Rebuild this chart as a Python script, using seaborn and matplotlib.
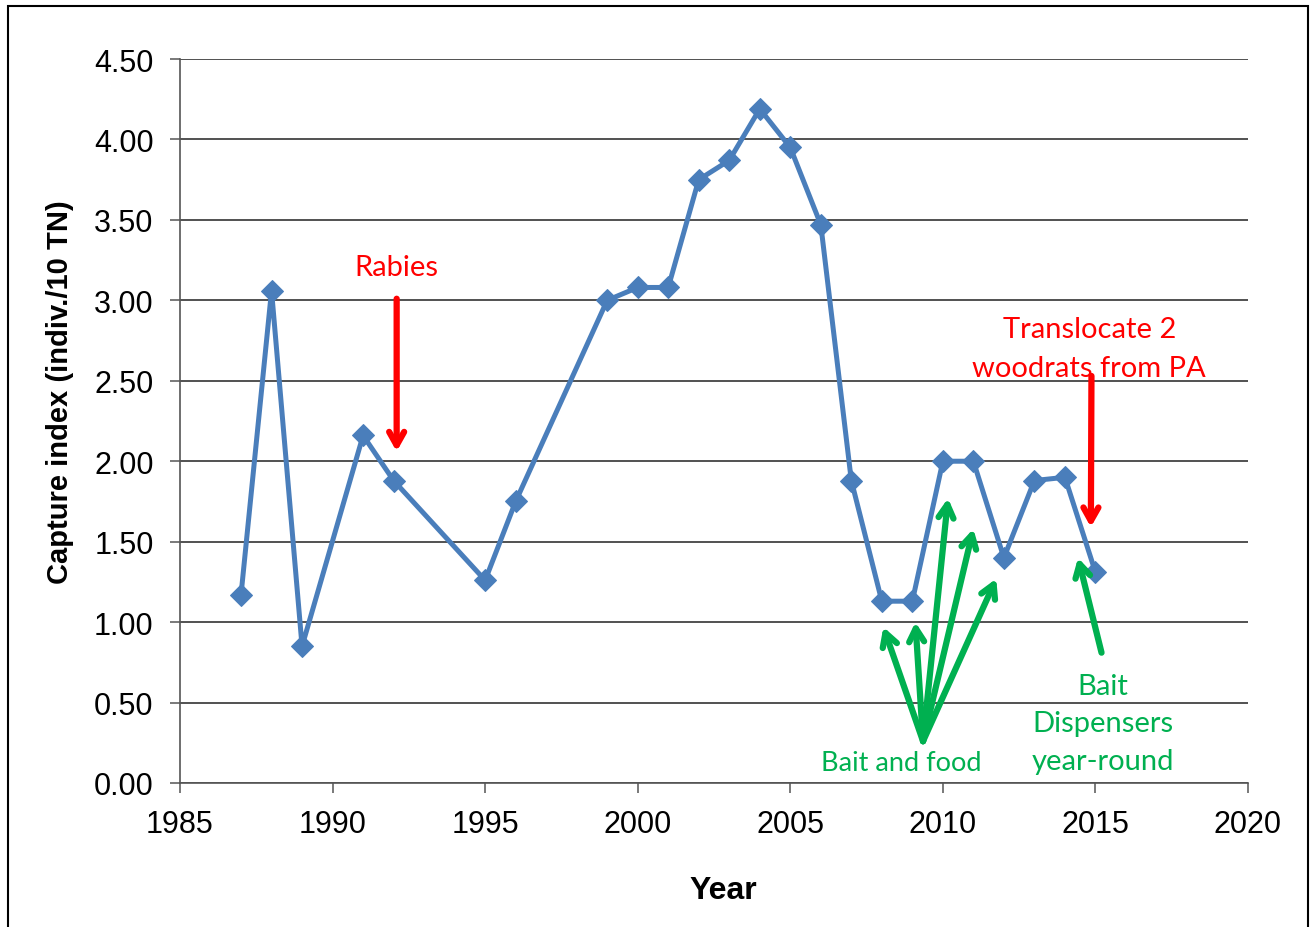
import matplotlib
matplotlib.use("Agg")
import matplotlib.pyplot as plt
import seaborn as sns
import pandas as pd
from matplotlib.patches import Rectangle

years = [1987, 1988, 1989, 1991, 1992, 1995, 1996, 1999, 2000, 2001, 2002, 2003,
         2004, 2005, 2006, 2007, 2008, 2009, 2010, 2011, 2012, 2013, 2014, 2015]
capture_index = [1.17, 3.06, 0.85, 2.16, 1.88, 1.26, 1.75, 3.00, 3.08, 3.08, 3.75, 3.87,
                 4.19, 3.95, 3.47, 1.88, 1.13, 1.13, 2.00, 2.00, 1.40, 1.88, 1.90, 1.31]
x_ticks = [1985, 1990, 1995, 2000, 2005, 2010, 2015, 2020]
y_ticks = [0.0, 0.5, 1.0, 1.5, 2.0, 2.5, 3.0, 3.5, 4.0, 4.5]

df = pd.DataFrame({"Year": years, "Capture": capture_index})

sns.set_theme(style="white")
plt.rcParams['font.family'] = ['Liberation Sans', 'DejaVu Sans']

fig = plt.figure(figsize=(13.1, 9.28), dpi=100)
ax = fig.add_axes([180/1310, 1-784/928, (1248-180)/1310, (784-60)/928])

line_color = "#4A7EBB"
sns.lineplot(data=df, x="Year", y="Capture", ax=ax, color=line_color, linewidth=3.6,
             marker="D", markersize=11, markeredgecolor=line_color, markerfacecolor=line_color)

ax.set_xlim(1985, 2020)
ax.set_ylim(0, 4.5)
ax.set_xticks(x_ticks)
ax.set_yticks(y_ticks)
ax.set_xticklabels([str(v) for v in x_ticks], fontsize=22)
ax.set_yticklabels([f"{v:.2f}" for v in y_ticks], fontsize=22)
ax.yaxis.grid(True, color="#222222", linewidth=1.1)
ax.xaxis.grid(False)
ax.set_axisbelow(True)
for s in ["top", "right"]:
    ax.spines[s].set_visible(False)
for s in ["left", "bottom"]:
    ax.spines[s].set_color("#555555")
    ax.spines[s].set_linewidth(1.2)
ax.tick_params(axis="both", which="major", direction="out", length=7, width=1.1,
               color="#555555", pad=12, bottom=True, left=True, labelcolor="black")

ax.set_xlabel("Year", fontsize=23, fontweight="bold", labelpad=26, color="black")
ax.set_ylabel("Capture index (indiv./10 TN)", fontsize=21, fontweight="bold", labelpad=14,
              color="black")
ax.xaxis.label.set_x(0.509)
ax.yaxis.label.set_y(0.541)

ann_font = ['Lato', 'DejaVu Sans']
red = "#FF0000"
green = "#00B050"
ap_red = dict(arrowstyle="->,head_length=0.8,head_width=0.45", color=red, lw=4.5,
              shrinkA=0, shrinkB=0)
ap_green = dict(arrowstyle="->,head_length=0.8,head_width=0.45", color=green, lw=4.5,
                shrinkA=0, shrinkB=0)

# Rabies
ax.text(1992.1, 3.21, "Rabies", color=red, fontsize=21, family=ann_font, ha="center", va="center")
ax.annotate("", xy=(1992.1, 2.06), xytext=(1992.1, 3.01), arrowprops=ap_red)

# Translocate
ax.text(2014.8, 2.70, "Translocate 2\nwoodrats from PA", color=red, fontsize=21,
        family=ann_font, ha="center", va="center", linespacing=1.62)
ax.annotate("", xy=(2014.85, 1.59), xytext=(2014.87, 2.53), arrowprops=ap_red)

# Bait and food
base = (2009.35, 0.26)
targets = [(2008.05, 0.97), (2009.1, 1.00), (2010.17, 1.77), (2011.0, 1.58), (2011.75, 1.27)]
for t in targets:
    ax.annotate("", xy=t, xytext=base, arrowprops=ap_green)
ax.text(2008.65, 0.13, "Bait and food", color=green, fontsize=19.5, family=ann_font,
        ha="center", va="center")

# Bait dispensers
ax.annotate("", xy=(2014.43, 1.40), xytext=(2015.2, 0.81), arrowprops=ap_green)
ax.text(2015.25, 0.37, "Bait\nDispensers\nyear-round", color=green, fontsize=21,
        family=ann_font, ha="center", va="center", linespacing=1.55)

# Figure border
fig.patches.append(Rectangle((8/1310, -0.01), (1308-8)/1310, 1 - 7/928 + 0.01,
                             transform=fig.transFigure, fill=False, edgecolor="black",
                             linewidth=1.5))

fig.savefig("out.png", dpi=100)
